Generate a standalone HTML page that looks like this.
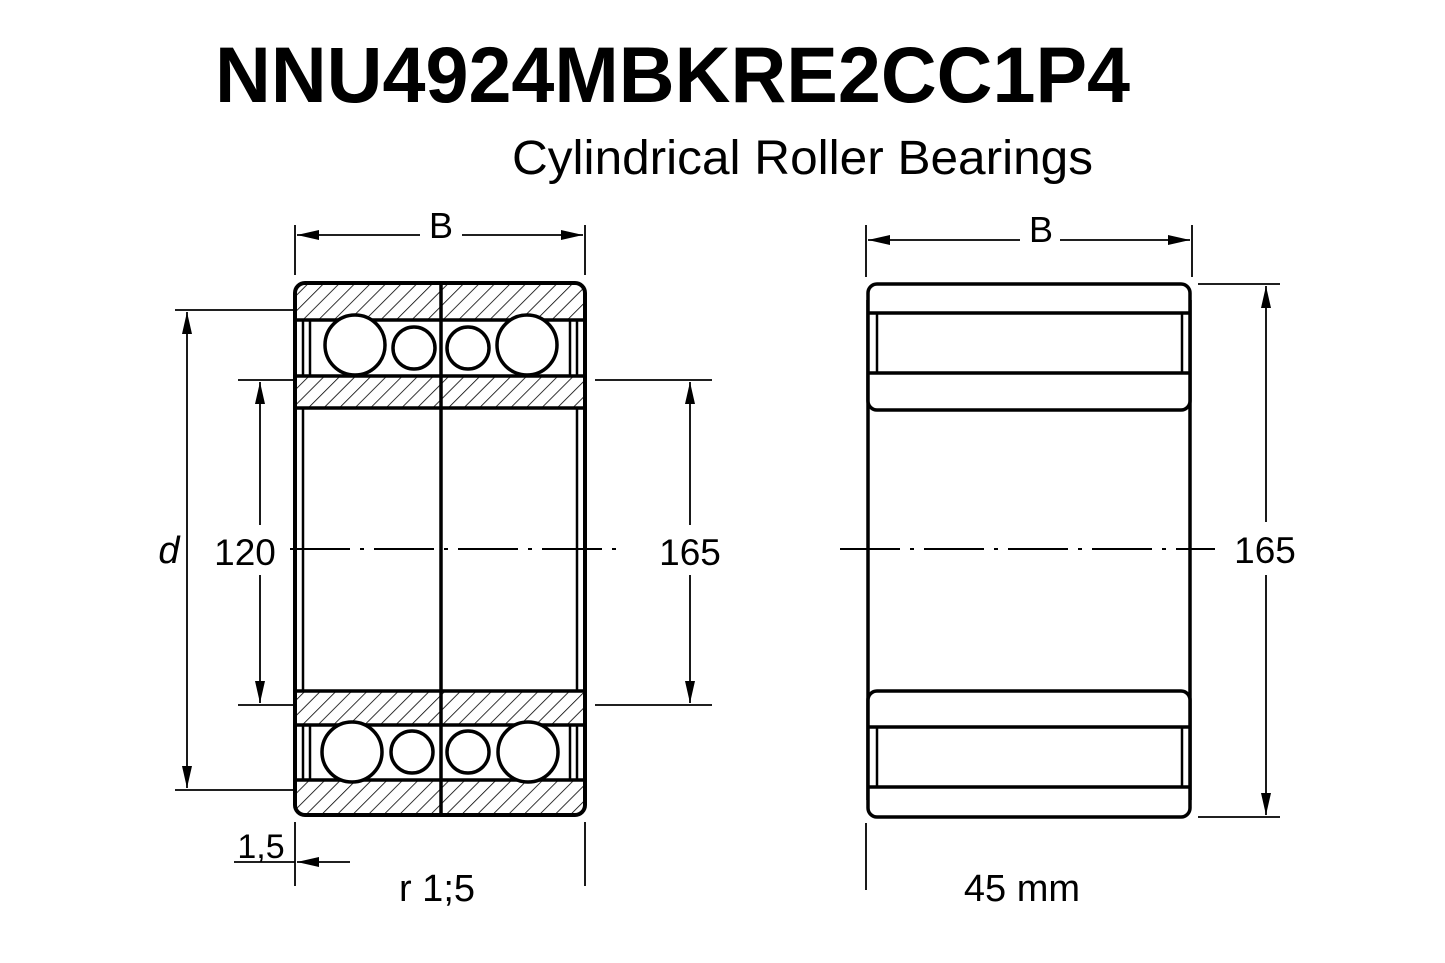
<!DOCTYPE html>
<html><head><meta charset="utf-8"><style>
html,body{margin:0;padding:0;background:#fff;}
svg{display:block;}
text{font-family:"Liberation Sans",sans-serif;fill:#000;}
</style></head><body>
<svg width="1445" height="963" viewBox="0 0 1445 963" xmlns="http://www.w3.org/2000/svg">
<defs>
<pattern id="h" patternUnits="userSpaceOnUse" width="11" height="11" patternTransform="rotate(45)">
<line x1="0" y1="0" x2="0" y2="11" stroke="#000" stroke-width="1.6"/>
</pattern>
<marker id="a" viewBox="0 0 10 10" refX="10" refY="5" markerWidth="22" markerHeight="10" markerUnits="userSpaceOnUse" orient="auto-start-reverse" preserveAspectRatio="none">
<path d="M0,0 L10,5 L0,10 z" fill="#000"/>
</marker>
</defs>
<text x="215" y="102" font-size="79" font-weight="bold" textLength="915" lengthAdjust="spacingAndGlyphs">NNU4924MBKRE2CC1P4</text>
<text x="512" y="174" font-size="48" textLength="581" lengthAdjust="spacingAndGlyphs">Cylindrical Roller Bearings</text>

<g stroke="#000" fill="none">
<rect x="295" y="283" width="290" height="532" rx="10" stroke-width="4" fill="#fff"/>
<rect x="297" y="285" width="286" height="35" fill="url(#h)" stroke="none"/>
<rect x="297" y="376" width="286" height="32" fill="url(#h)" stroke="none"/>
<rect x="297" y="691" width="286" height="34" fill="url(#h)" stroke="none"/>
<rect x="297" y="780" width="286" height="33" fill="url(#h)" stroke="none"/>
<g stroke-width="3.5">
<line x1="297" y1="320" x2="583" y2="320"/>
<line x1="297" y1="376" x2="583" y2="376"/>
<line x1="297" y1="408" x2="583" y2="408"/>
<line x1="297" y1="691" x2="583" y2="691"/>
<line x1="297" y1="725" x2="583" y2="725"/>
<line x1="297" y1="780" x2="583" y2="780"/>
<line x1="441" y1="283" x2="441" y2="815"/>
</g>
<g stroke-width="2.5">
<line x1="303" y1="408" x2="303" y2="691"/>
<line x1="577" y1="408" x2="577" y2="691"/>
<line x1="303" y1="320" x2="303" y2="376"/><line x1="310" y1="320" x2="310" y2="376"/>
<line x1="577" y1="320" x2="577" y2="376"/><line x1="570" y1="320" x2="570" y2="376"/>
<line x1="303" y1="725" x2="303" y2="780"/><line x1="310" y1="725" x2="310" y2="780"/>
<line x1="577" y1="725" x2="577" y2="780"/><line x1="570" y1="725" x2="570" y2="780"/>
</g>
<g stroke-width="3.5" fill="#fff">
<circle cx="355" cy="345" r="30"/><circle cx="414" cy="348" r="21"/>
<circle cx="468" cy="348" r="21"/><circle cx="527" cy="345" r="30"/>
<circle cx="352" cy="752" r="30"/><circle cx="412" cy="752" r="21"/>
<circle cx="468" cy="752" r="21"/><circle cx="528" cy="752" r="30"/>
</g>

<g stroke-width="3.5">
<line x1="868" y1="300" x2="868" y2="800"/>
<line x1="1190" y1="300" x2="1190" y2="800"/>
<rect x="868" y="284" width="322" height="126" rx="9" fill="#fff"/>
<line x1="868" y1="313" x2="1190" y2="313"/>
<line x1="868" y1="373" x2="1190" y2="373"/>
<rect x="868" y="691" width="322" height="126" rx="9" fill="#fff"/>
<line x1="868" y1="727" x2="1190" y2="727"/>
<line x1="868" y1="787" x2="1190" y2="787"/>
</g>
<g stroke-width="2.5">
<line x1="877" y1="313" x2="877" y2="373"/><line x1="1182" y1="313" x2="1182" y2="373"/>
<line x1="877" y1="727" x2="877" y2="787"/><line x1="1182" y1="727" x2="1182" y2="787"/>
</g>

<line x1="290" y1="549" x2="620" y2="549" stroke-width="2" stroke-dasharray="60,10,4,10"/>
<line x1="840" y1="549" x2="1215" y2="549" stroke-width="2" stroke-dasharray="60,10,4,10"/>

<g stroke-width="1.8">
<line x1="295" y1="225" x2="295" y2="275"/><line x1="585" y1="225" x2="585" y2="275"/>
<line x1="297" y1="235" x2="420" y2="235" marker-start="url(#a)"/>
<line x1="462" y1="235" x2="583" y2="235" marker-end="url(#a)"/>
<line x1="866" y1="225" x2="866" y2="277"/><line x1="1192" y1="225" x2="1192" y2="277"/>
<line x1="868" y1="240" x2="1020" y2="240" marker-start="url(#a)"/>
<line x1="1060" y1="240" x2="1190" y2="240" marker-end="url(#a)"/>

<line x1="175" y1="310" x2="295" y2="310"/><line x1="175" y1="790" x2="295" y2="790"/>
<line x1="187" y1="312" x2="187" y2="788" marker-start="url(#a)" marker-end="url(#a)"/>
<line x1="238" y1="380" x2="295" y2="380"/><line x1="238" y1="705" x2="295" y2="705"/>
<line x1="260" y1="382" x2="260" y2="525" marker-start="url(#a)"/>
<line x1="260" y1="575" x2="260" y2="703" marker-end="url(#a)"/>
<line x1="595" y1="380" x2="712" y2="380"/><line x1="595" y1="705" x2="712" y2="705"/>
<line x1="690" y1="382" x2="690" y2="525" marker-start="url(#a)"/>
<line x1="690" y1="575" x2="690" y2="703" marker-end="url(#a)"/>
<line x1="1198" y1="284" x2="1280" y2="284"/><line x1="1198" y1="817" x2="1280" y2="817"/>
<line x1="1266" y1="286" x2="1266" y2="522" marker-start="url(#a)"/>
<line x1="1266" y1="575" x2="1266" y2="815" marker-end="url(#a)"/>

<line x1="295" y1="822" x2="295" y2="886"/><line x1="585" y1="822" x2="585" y2="886"/>
<line x1="234" y1="862" x2="295" y2="862"/>
<line x1="350" y1="862" x2="297" y2="862" marker-end="url(#a)"/>
<line x1="866" y1="823" x2="866" y2="890"/>
</g>
</g>

<text x="441" y="238" font-size="36" text-anchor="middle">B</text>
<text x="1041" y="242" font-size="36" text-anchor="middle">B</text>
<text x="169" y="563" font-size="38" font-style="italic" text-anchor="middle">d</text>
<text x="245" y="565" font-size="37" text-anchor="middle">120</text>
<text x="690" y="565" font-size="37" text-anchor="middle">165</text>
<text x="1265" y="563" font-size="37" text-anchor="middle">165</text>
<text x="261" y="858" font-size="34" text-anchor="middle">1,5</text>
<text x="437" y="901" font-size="38" text-anchor="middle">r 1;5</text>
<text x="1022" y="901" font-size="38" text-anchor="middle">45 mm</text>
</svg>
</body></html>
